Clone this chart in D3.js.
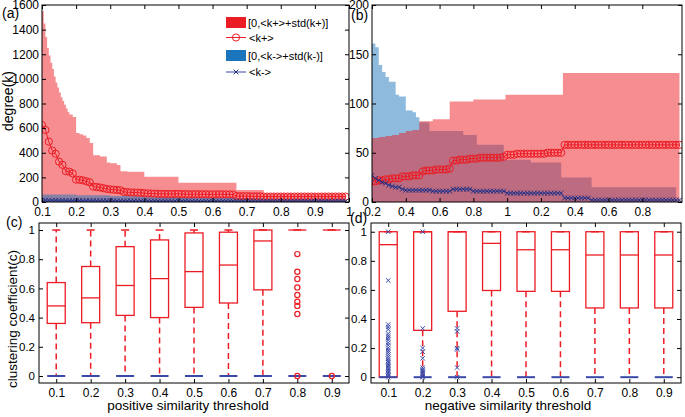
<!DOCTYPE html>
<html><head><meta charset="utf-8">
<script src="https://cdn.jsdelivr.net/npm/d3@7"></script>
<style>body{margin:0;background:#fff}svg{display:block}text{font-family:"Liberation Sans",Arial,Helvetica,sans-serif}</style>
</head><body><svg id="c" width="685" height="417"></svg>
<script>
// ---------------- DATA ----------------
// panel (a): positive network
const thrA = [0.10,0.11,0.12,0.13,0.14,0.15,0.16,0.17,0.18,0.19,
0.20,0.21,0.22,0.23,0.24,0.25,0.26,0.27,0.28,0.29,
0.30,0.31,0.32,0.33,0.34,0.35,0.36,0.37,0.38,0.39,
0.40,0.41,0.42,0.43,0.44,0.45,0.46,0.47,0.48,0.49,
0.50,0.51,0.52,0.53,0.54,0.55,0.56,0.57,0.58,0.59,
0.60,0.61,0.62,0.63,0.64,0.65,0.66,0.67,0.68,0.69,
0.70,0.71,0.72,0.73,0.74,0.75,0.76,0.77,0.78,0.79,
0.80,0.81,0.82,0.83,0.84,0.85,0.86,0.87,0.88,0.89,
0.90,0.91,0.92,0.93,0.94,0.95,0.96,0.97,0.98,0.99];
const kPlusA = [625,585,490,418,392,328,302,250,246,232,
182,180,176,168,160,125,122,118,112,106,
102,100,98,95,82,80,78,77,76,75,
72,70,69,68,67,66,66,65,65,66,
67,64,64,63,63,64,63,63,63,62,
62,62,63,62,62,62,61,48,47,47,
47,46,46,46,46,44,44,44,44,44,
44,44,44,44,44,44,44,44,44,44,
44,44,44,44,44,44,44,44,44,44];
const kMinusA = [15,15,14,14,14,13,13,13,12,12,
12,12,11,11,11,11,10,10,10,10,
10,10,9,9,9,9,9,9,9,9,
8,8,8,8,8,8,8,8,8,8,
8,8,8,8,7,7,7,7,7,7,
7,7,7,7,7,7,7,6,6,6,
6,6,6,6,6,5,5,5,5,5,
5,5,5,5,5,5,5,5,5,5,
5,5,5,5,5,5,5,5,5,5];
const bandPlusAX = [0.10,0.105,0.11,0.115,0.12,0.125,0.13,0.135,0.14,0.145,0.15,0.155,0.16,0.165,0.17,0.175,0.18,0.19,0.20,0.21,0.22,0.23,0.24,0.25,0.27,0.29,0.30,0.32,0.33,0.35,0.40,0.50,0.67,0.75,0.99];
const bandPlusAY = [1550,1450,1340,1250,1190,1130,1080,1020,970,930,890,850,820,790,760,730,710,690,560,550,540,520,480,380,370,320,315,300,250,245,205,157,97,65,65];
const bandMinusAX = [0.10,0.20,0.30,0.40,0.50,0.67,0.75,0.99];
const bandMinusAY = [60,55,48,40,35,30,28,28];
const xTicksA = [0.1,0.2,0.3,0.4,0.5,0.6,0.7,0.8,0.9,1.0];
const xTickLabelsA = ["0.1","0.2","0.3","0.4","0.5","0.6","0.7","0.8","0.9","1"];
const yTicksA = [0,200,400,600,800,1000,1200,1400,1600];

// panel (b): negative network
const thrB = [0.20,0.22,0.24,0.26,0.28,0.30,0.32,0.34,0.36,0.38,
0.40,0.42,0.44,0.46,0.48,0.50,0.52,0.54,0.56,0.58,
0.60,0.62,0.64,0.66,0.68,0.70,0.72,0.74,0.76,0.78,
0.80,0.82,0.84,0.86,0.88,0.90,0.92,0.94,0.96,0.98,
1.00,1.02,1.04,1.06,1.08,1.10,1.12,1.14,1.16,1.18,
1.20,1.22,1.24,1.26,1.28,1.30,1.32,1.34,1.36,1.38,
1.40,1.42,1.44,1.46,1.48,1.50,1.52,1.54,1.56,1.58,
1.60,1.62,1.64,1.66,1.68,1.70,1.72,1.74,1.76,1.78,
1.80,1.82,1.84,1.86,1.88,1.90,1.92,1.94,1.96,1.98,
2.00,2.02];
const kPlusB = [21,21,22,22,23,23,24,24,24,26,
26,26,27,27,27,31,32,32,32,33,
33,33,33,34,42,42,43,43,43,44,
44,44,45,45,45,45,45,45,45,46,
48,48,48,49,49,49,49,49,49,49,
49,49,50,50,50,50,50,58,58,58,
58,58,58,58,58,58,58,58,58,58,
58,58,58,58,58,58,58,58,58,58,
58,58,58,58,58,58,58,58,58,58,
58,58];
const kMinusB = [27,24,22,20,19,17,16,15,15,13,
12,12,12,12,12,12,12,12,11,11,
11,11,11,11,13,13,13,13,13,13,
11,11,11,11,11,11,11,11,11,11,
9,9,9,9,9,9,9,9,9,9,
9,9,9,9,9,9,9,4,4,4,
4,4,4,4,4,2,2,2,2,2,
2,2,2,2,2,2,2,2,2,2,
2,2,2,2,2,2,2,2,2,2,
2,2];
const bandPlusBX = [0.20,0.24,0.28,0.32,0.36,0.40,0.44,0.48,0.56,0.66,0.80,0.99,1.33,2.02];
const bandPlusBY = [65,66,67,68,70,72,73,82,84,102,104,109,131,131];
const bandMinusBX = [0.20,0.22,0.24,0.26,0.28,0.30,0.34,0.36,0.40,0.44,0.46,0.48,0.54,0.74,0.82,0.98,1.14,1.32,1.50,2.00];
const bandMinusBY = [161,157,139,132,127,122,109,107,93,91,86,81,72,68,58,43,40,25,15,15];
const xTicksB = [0.2,0.4,0.6,0.8,1.0,1.2,1.4,1.6,1.8];
const xTickLabelsB = ["0.2","0.4","0.6","0.8","1","0.2","0.4","0.6","0.8"];
const yTicksB = [0,50,100,150,200];

// panels (c),(d): box plots of clustering coefficient
const thresholds = ["0.1","0.2","0.3","0.4","0.5","0.6","0.7","0.8","0.9"];
const posLow = [0,0,0,0,0,0,0,1,1];
const posQ1  = [0.36,0.365,0.415,0.40,0.47,0.50,0.59,1,1];
const posMed = [0.48,0.535,0.62,0.667,0.715,0.76,0.925,1,1];
const posQ3  = [0.64,0.75,0.886,0.932,0.98,0.985,1.0,1,1];
const posHigh= [1,1,1,1,1,1,1,1,1];
const posOutliers = [[],[],[],[],[],[],[],[0.835,0.714,0.664,0.607,0.555,0.509,0.48,0.425,0],[0]];
const negLow = [0,0,0,0,0,0,0,0,0];
const negQ1  = [0,0.322,0.453,0.596,0.59,0.59,0.476,0.476,0.476];
const negMed = [0.911,1,1,0.92,0.876,0.876,0.84,0.84,0.84];
const negQ3  = [1,1,1,1,1,1,1,1,1];
const negHigh= [1,1,1,1,1,1,1,1,1];
const negOutliers = [
 [1,0.665,0.362,0.345,0.328,0.30,0.285,0.271,0.255,0.237,0.22,0.202,0.186,0.171,0.156,0.141,0.126,0.111,0.1,0.089,0.08,0.07,0.06,0.05,0.04,0.03,0.02,0.01,0],
 [1,0.335,0.2,0.175,0.13,0.066,0.055,0.045,0.035,0.025,0.015,0.005,0],
 [0.335,0.315,0.2,0.19,0.066,0],
 [],[],[],[],[],[]];
const zeroCap = [0,0,0,0,0,0,0,0,0];
const yTicksBox = [0,0.2,0.4,0.6,0.8,1];

// ---------------- DRAWING ----------------
const svg = d3.select('#c');
const RED = '#ec1c24', BLUE = '#1b75bc', KM = '#3a48a8', KM_DARK = '#27307f';

function styleAxis(g, fs){
  g.select('.domain').remove();
  g.selectAll('line').attr('stroke','#000');
  g.selectAll('text').attr('font-size',fs||'12px').attr('fill','#000')
   .attr('font-family','"Liberation Sans",Arial,sans-serif');
}
function frame(x0,x1,y0,y1){
  svg.append('rect').attr('x',x0).attr('y',y0).attr('width',x1-x0).attr('height',y1-y0)
    .attr('fill','none').attr('stroke','#000').attr('stroke-width',1);
}
let clipId = 0;
function clip(x0,x1,y0,y1){
  const id = 'clip'+(clipId++);
  svg.append('clipPath').attr('id',id).append('rect').attr('x',x0).attr('y',y0).attr('width',x1-x0).attr('height',y1-y0);
  return 'url(#'+id+')';
}
function xMark(sel, x, y, s, color, w){
  sel.append('path').attr('d',`M${x-s},${y-s}L${x+s},${y+s}M${x-s},${y+s}L${x+s},${y-s}`)
    .attr('stroke',color).attr('stroke-width',w||1).attr('fill','none');
}

function degreePanel(cfg){
  const {x,y,xTicks,xLabels,yTicks,bandP,bandM,kP,kM,thr,blueFirst} = cfg;
  const [X0,X1] = x.range(), [Y1,Y0] = y.range();
  const g = svg.append('g').attr('clip-path', clip(X0,X1,Y0,Y1));
  const area = d3.area().curve(d3.curveStepAfter).x(d=>x(d[0])).y0(y(0)).y1(d=>y(d[1]));
  const drawRed = ()=>g.append('path').datum(d3.zip(bandP[0],bandP[1])).attr('d',area).attr('fill',RED).attr('fill-opacity',0.5);
  const drawBlue = ()=>g.append('path').datum(d3.zip(bandM[0],bandM[1])).attr('d',area).attr('fill',BLUE).attr('fill-opacity',0.5);
  if(blueFirst){drawBlue();drawRed();}else{drawRed();drawBlue();}
  const line = d3.line().x(d=>x(d[0])).y(d=>y(d[1]));
  const pP = d3.zip(thr,kP), pM = d3.zip(thr,kM);
  g.append('path').datum(pP).attr('d',line).attr('fill','none').attr('stroke',RED).attr('stroke-width',1);
  g.selectAll('circle.kp').data(pP).join('circle').attr('class','kp')
    .attr('cx',d=>x(d[0])).attr('cy',d=>y(d[1])).attr('r',3.6)
    .attr('fill','none').attr('stroke',RED).attr('stroke-width',1);
  g.append('path').datum(pM).attr('d',line).attr('fill','none').attr('stroke',KM).attr('stroke-width',1);
  pM.forEach(d=>xMark(g, x(d[0]), y(d[1]), 2.4, KM_DARK, 1));
  frame(X0,X1,Y0,Y1);
  const bx = svg.append('g').attr('transform',`translate(0,${Y1})`)
    .call(d3.axisBottom(x).tickValues(xTicks).tickFormat((d,i)=>xLabels[i]).tickSizeInner(-4).tickSizeOuter(0).tickPadding(5));
  styleAxis(bx);
  const tx = svg.append('g').attr('transform',`translate(0,${Y0})`)
    .call(d3.axisTop(x).tickValues(xTicks).tickFormat('').tickSizeInner(-4).tickSizeOuter(0));
  styleAxis(tx);
  const ly = svg.append('g').attr('transform',`translate(${X0},0)`)
    .call(d3.axisLeft(y).tickValues(yTicks).tickFormat(d3.format('d')).tickSizeInner(-4).tickSizeOuter(0).tickPadding(3));
  styleAxis(ly);
  const ry = svg.append('g').attr('transform',`translate(${X1},0)`)
    .call(d3.axisRight(y).tickValues(yTicks).tickFormat('').tickSizeInner(-4).tickSizeOuter(0));
  styleAxis(ry);
}

// (a)
const xA = d3.scaleLinear().domain([0.1,1.0]).range([42,349]);
const yA = d3.scaleLinear().domain([0,1600]).range([202,5]);
degreePanel({x:xA,y:yA,xTicks:xTicksA,xLabels:xTickLabelsA,yTicks:yTicksA,
  bandP:[bandPlusAX,bandPlusAY],bandM:[bandMinusAX,bandMinusAY],kP:kPlusA,kM:kMinusA,thr:thrA,blueFirst:false});
// (b)
const xB = d3.scaleLinear().domain([0.2,2.035]).range([372,682]);
const yB = d3.scaleLinear().domain([0,200]).range([202,5]);
degreePanel({x:xB,y:yB,xTicks:xTicksB,xLabels:xTickLabelsB,yTicks:yTicksB,
  bandP:[bandPlusBX,bandPlusBY],bandM:[bandMinusBX,bandMinusBY],kP:kPlusB,kM:kMinusB,thr:thrB,blueFirst:true});

// legend in (a)
const lg = svg.append('g').attr('font-size','11px');
lg.append('rect').attr('x',226).attr('y',17).attr('width',20).attr('height',11).attr('fill',RED);
lg.append('text').attr('x',248).attr('y',26.5).text('[0,<k+>+std(k+)]');
lg.append('line').attr('x1',226).attr('x2',246).attr('y1',37.5).attr('y2',37.5).attr('stroke',RED);
lg.append('circle').attr('cx',236).attr('cy',37.5).attr('r',3.6).attr('fill','none').attr('stroke',RED);
lg.append('text').attr('x',249).attr('y',41.5).text('<k+>');
lg.append('rect').attr('x',226).attr('y',50).attr('width',20).attr('height',11).attr('fill',BLUE);
lg.append('text').attr('x',248).attr('y',59.5).text('[0,<k->+std(k-)]');
lg.append('line').attr('x1',226).attr('x2',246).attr('y1',72).attr('y2',72).attr('stroke',KM);
xMark(lg,236,72,2.4,KM_DARK,1);
lg.append('text').attr('x',249).attr('y',76).text('<k->');

// box plots
function boxPanel(cfg){
  const {x,y,low,q1,med,q3,high,outl,outlierType} = cfg;
  const [X0,X1] = x.range(), [Y1,Y0] = y.range();
  const bw = 18, cw = 8;
  const g = svg.append('g');
  thresholds.forEach((c,i)=>{
    const cx = x(c);
    if(high[i]>q3[i]) g.append('line').attr('x1',cx).attr('x2',cx).attr('y1',y(q3[i])).attr('y2',y(high[i]))
      .attr('stroke',RED).attr('stroke-width',1.5).attr('stroke-dasharray','6,4');
    if(low[i]<q1[i]) g.append('line').attr('x1',cx).attr('x2',cx).attr('y1',y(q1[i])).attr('y2',y(low[i]))
      .attr('stroke',RED).attr('stroke-width',1.5).attr('stroke-dasharray','6,4');
    g.append('line').attr('x1',cx-cw/2).attr('x2',cx+cw/2).attr('y1',y(high[i])).attr('y2',y(high[i]))
      .attr('stroke',RED).attr('stroke-width',1.5);
    if(q3[i]>q1[i]) g.append('rect').attr('x',cx-bw/2).attr('width',bw).attr('y',y(q3[i])).attr('height',y(q1[i])-y(q3[i]))
      .attr('fill','none').attr('stroke',RED).attr('stroke-width',1.3);
    g.append('line').attr('x1',cx-bw/2).attr('x2',cx+bw/2).attr('y1',y(med[i])).attr('y2',y(med[i]))
      .attr('stroke',RED).attr('stroke-width',1.3);
    g.append('line').attr('x1',cx-bw/2).attr('x2',cx+bw/2).attr('y1',y(zeroCap[i])).attr('y2',y(zeroCap[i]))
      .attr('stroke',KM).attr('stroke-width',2);
    outl[i].forEach(v=>{
      if(outlierType==='o') g.append('circle').attr('cx',cx).attr('cy',y(v)).attr('r',2.6).attr('fill','none').attr('stroke',RED).attr('stroke-width',1.2);
      else xMark(g,cx,y(v),2.2,KM,1);
    });
  });
  frame(X0,X1,Y0,Y1);
  const bx = svg.append('g').attr('transform',`translate(0,${Y1})`)
    .call(d3.axisBottom(x).tickSizeInner(-4).tickSizeOuter(0).tickPadding(5));
  styleAxis(bx);
  const tx = svg.append('g').attr('transform',`translate(0,${Y0})`)
    .call(d3.axisTop(x).tickFormat('').tickSizeInner(-4).tickSizeOuter(0));
  styleAxis(tx);
  const ly = svg.append('g').attr('transform',`translate(${X0},0)`)
    .call(d3.axisLeft(y).tickValues(yTicksBox).tickFormat(d=>d===0?'0':d===1?'1':d3.format('.1f')(d)).tickSizeInner(-4).tickSizeOuter(0).tickPadding(4));
  styleAxis(ly,'11.5px');
  const ry = svg.append('g').attr('transform',`translate(${X1},0)`)
    .call(d3.axisRight(y).tickValues(yTicksBox).tickFormat('').tickSizeInner(-4).tickSizeOuter(0));
  styleAxis(ry);
}
const xC = d3.scalePoint().domain(thresholds).range([39,349]).padding(0.5);
const yC = d3.scaleLinear().domain([-0.048,1.048]).range([383,223]);
boxPanel({x:xC,y:yC,low:posLow,q1:posQ1,med:posMed,q3:posQ3,high:posHigh,outl:posOutliers,outlierType:'o'});
const xD = d3.scalePoint().domain(thresholds).range([371,681]).padding(0.5);
const yD = d3.scaleLinear().domain([-0.04,1.06]).range([383,223]);
boxPanel({x:xD,y:yD,low:negLow,q1:negQ1,med:negMed,q3:negQ3,high:negHigh,outl:negOutliers,outlierType:'x'});

// axis titles and panel labels
svg.append('text').attr('transform','translate(13,101) rotate(-90)').attr('text-anchor','middle').attr('font-size','14px').text('degree(k)');
svg.append('text').attr('transform','translate(17,319) rotate(-90)').attr('text-anchor','middle').attr('font-size','13.5px').text('clustering coefficient(c)');
svg.append('text').attr('x',188).attr('y',410).attr('text-anchor','middle').attr('font-size','13.5px').text('positive similarity threshold');
svg.append('text').attr('x',508).attr('y',410).attr('text-anchor','middle').attr('font-size','13.5px').text('negative similarity threshold');
svg.append('text').attr('x',2).attr('y',18).attr('font-size','14px').text('(a)');
svg.append('text').attr('x',351).attr('y',20).attr('font-size','14px').text('(b)');
svg.append('text').attr('x',6).attr('y',227).attr('font-size','14px').text('(c)');
svg.append('text').attr('x',350).attr('y',223).attr('font-size','14px').text('(d)');
</script></body></html>
